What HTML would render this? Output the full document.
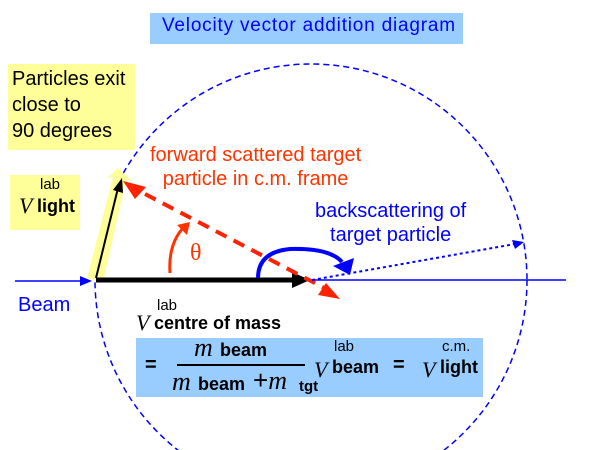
<!DOCTYPE html>
<html><head><style>
html,body{margin:0;background:#fff;width:600px;height:450px;overflow:hidden}
body{position:relative;font-family:"Liberation Sans",sans-serif}
.t{position:absolute;white-space:nowrap}
svg{display:block;overflow:hidden}
</style></head><body>
<svg width="600" height="450" style="position:absolute;left:0;top:0">
<rect x="150" y="13" width="313" height="31" fill="#99ccff"/>
<rect x="8" y="64" width="127" height="86" fill="#ffff99"/>
<rect x="10" y="175" width="70" height="55" fill="#ffff99"/>
<rect x="136" y="338" width="347" height="59" fill="#99ccff"/>
<circle cx="311" cy="280" r="216" fill="none" stroke="#0000ff" stroke-width="1.5" stroke-dasharray="6,4"/>
<line x1="15" y1="281" x2="88" y2="281" stroke="#0000ff" stroke-width="1.5"/>
<path d="M80,276 L92,281 L80,286z" fill="#0000ff"/>
<line x1="310" y1="280" x2="566" y2="280" stroke="#0000ff" stroke-width="1.5"/>
<polygon points="87,278 103,282 126,180 132,181 118,168 107,178 113,177" fill="#ffff99"/>
<line x1="96" y1="280" x2="298" y2="280" stroke="#000" stroke-width="5"/>
<path d="M292,272 L310,280 L292,288z" fill="#000"/>
<line x1="96" y1="278" x2="118" y2="188" stroke="#000" stroke-width="2"/>
<path d="M113,190 L122,178 L123,193z" fill="#000"/>
<line x1="145" y1="194" x2="330" y2="291" stroke="#ff2200" stroke-width="4" stroke-dasharray="12,8"/>
<path d="M123,181 L146,187 L135,199z" fill="#ff2200"/>
<path d="M340,299 L318,295 L326,283z" fill="#ff2200"/>
<path d="M170,273 Q168,245 183,228" fill="none" stroke="#ff3300" stroke-width="3"/>
<path d="M177,225 L190,222 L187,235z" fill="#ff3300"/>
<path d="M258,278 Q258,252 290,249 Q330,248 342,262" fill="none" stroke="#0000ff" stroke-width="4"/>
<path d="M333,266 L354,258 L350,275z" fill="#0000ff"/>
<line x1="312" y1="280" x2="515" y2="244" stroke="#0000ff" stroke-width="2" stroke-dasharray="3,3"/>
<path d="M512,240 L524,242 L515,249z" fill="#0000ff"/>
<line x1="177" y1="365" x2="305" y2="365" stroke="#000" stroke-width="2"/>
</svg>
<div class="t" style="left:162px;top:15px;font-size:19px;letter-spacing:0.8px;color:#0000ff">Velocity vector addition diagram</div>
<div class="t" style="left:12px;top:66px;font-size:20px;line-height:26px">Particles exit<br>close to<br>90 degrees</div>
<div class="t" style="left:40px;top:176px;font-size:15px">lab</div>
<div class="t" style="left:19px;top:193px;font-size:22px;font-family:'Liberation Serif',serif;font-style:italic">V</div>
<div class="t" style="left:37px;top:196px;font-size:18px;font-weight:bold">light</div>
<div class="t" style="left:150px;top:143px;font-size:20px;color:#ff3300;line-height:24px;text-align:center">forward scattered target<br>particle in c.m. frame</div>
<div class="t" style="left:190px;top:240px;font-size:24px;color:#ff3300;font-family:'Liberation Serif',serif">θ</div>
<div class="t" style="left:315px;top:199px;font-size:20px;color:#0000ff;line-height:24px;text-align:center">backscattering of<br>target particle</div>
<div class="t" style="left:18px;top:294px;font-size:20px;color:#0000ff">Beam</div>
<div class="t" style="left:157px;top:297px;font-size:15px">lab</div>
<div class="t" style="left:136px;top:310px;font-size:22px;font-family:'Liberation Serif',serif;font-style:italic">V</div>
<div class="t" style="left:154px;top:313px;font-size:18px;font-weight:bold">centre of mass</div>
<div class="t" style="left:145px;top:354px;font-size:20px;font-weight:bold">=</div>
<div class="t" style="left:194px;top:333px;font-size:26px;font-family:'Liberation Serif',serif;font-style:italic">m</div>
<div class="t" style="left:220px;top:340px;font-size:18px;font-weight:bold">beam</div>
<div class="t" style="left:172px;top:367px;font-size:26px;font-family:'Liberation Serif',serif;font-style:italic">m</div>
<div class="t" style="left:198px;top:374px;font-size:18px;font-weight:bold">beam</div>
<div class="t" style="left:253px;top:365px;font-size:26px">+<i style="font-family:'Liberation Serif',serif">m</i></div>
<div class="t" style="left:299px;top:378px;font-size:15px;font-weight:bold">tgt</div>
<div class="t" style="left:314px;top:357px;font-size:22px;font-family:'Liberation Serif',serif;font-style:italic">V</div>
<div class="t" style="left:334px;top:338px;font-size:15px">lab</div>
<div class="t" style="left:332px;top:357px;font-size:18px;font-weight:bold">beam</div>
<div class="t" style="left:393px;top:354px;font-size:20px;font-weight:bold">=</div>
<div class="t" style="left:422px;top:357px;font-size:22px;font-family:'Liberation Serif',serif;font-style:italic">V</div>
<div class="t" style="left:442px;top:338px;font-size:15px">c.m.</div>
<div class="t" style="left:440px;top:357px;font-size:18px;font-weight:bold">light</div>
</body></html>
